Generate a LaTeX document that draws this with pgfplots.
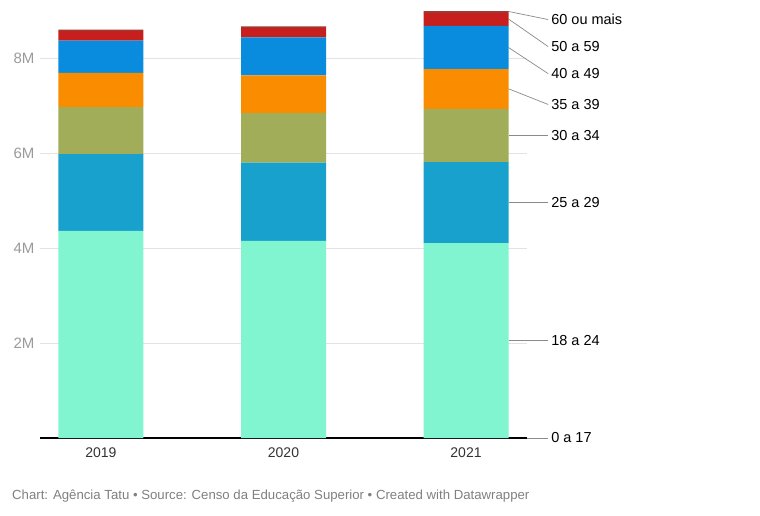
\documentclass[border=0pt]{standalone}
\usepackage{pgfplots}
\pgfplotsset{compat=1.18}
\usepackage{fontspec}
\setmainfont{Liberation Sans}

\definecolor{cA}{HTML}{80F5CF}   % 0 a 17 / 18 a 24
\definecolor{cB}{HTML}{18A1CD}   % 25 a 29
\definecolor{cC}{HTML}{A1AD59}   % 30 a 34
\definecolor{cD}{HTML}{FA8C00}   % 35 a 39
\definecolor{cE}{HTML}{098CDD}   % 40 a 49
\definecolor{cF}{HTML}{C71F1E}   % 50 a 59
\definecolor{cG}{HTML}{9C3A33}   % 60 ou mais
\definecolor{gridc}{HTML}{E3E3E3}
\definecolor{tickc}{HTML}{9A9A9A}
\definecolor{leadc}{HTML}{8A8A8A}

\begin{document}
\begin{tikzpicture}[x=1pt,y=1pt]
\begin{axis}[
    anchor=south west,
    scale only axis, width=487pt, height=427pt,
    ybar stacked, bar width=85pt,
    xmin=-0.334, xmax=2.334, ymin=0, ymax=9,
    axis x line*=bottom, axis y line*=left,
    x axis line style={black, line width=1.2pt, -},
    y axis line style={draw=none},
    xtick={0,1,2}, xticklabels={2019,2020,2021},
    ytick={2,4,6,8}, yticklabels={2M,4M,6M,8M},
    major tick length=0pt,
    ymajorgrids, grid style={gridc, line width=0.8pt},
    xticklabel style={font=\fontsize{14}{16}\selectfont, text=black!80, yshift=-6pt},
    yticklabel style={font=\fontsize{15}{17}\selectfont, text=tickc, xshift=-2pt},
    /pgf/number format/assume math mode=true,
    clip=false,
    every axis plot/.append style={draw=none},
]
% 0 a 17
\addplot[fill=cA] coordinates {(0,0.005) (1,0.005) (2,0.005)};
% 18 a 24
\addplot[fill=cA] coordinates {(0,4.36) (1,4.15) (2,4.10)};
% 25 a 29
\addplot[fill=cB] coordinates {(0,1.62) (1,1.65) (2,1.71)};
% 30 a 34
\addplot[fill=cC] coordinates {(0,0.99) (1,1.04) (2,1.12)};
% 35 a 39
\addplot[fill=cD] coordinates {(0,0.72) (1,0.80) (2,0.84)};
% 40 a 49
\addplot[fill=cE] coordinates {(0,0.68) (1,0.80) (2,0.91)};
% 50 a 59
\addplot[fill=cF] coordinates {(0,0.20) (1,0.20) (2,0.27)};
% 60 ou mais
\addplot[fill=cG] coordinates {(0,0.03) (1,0.03) (2,0.04)};

% leader lines and labels
\tikzset{lab/.style={anchor=west, font=\fontsize{14.5}{16}\selectfont, inner sep=0pt}}
\draw[leadc, line width=0.7pt] (axis cs:2.233,8.99) -- (axis cs:2.45,8.82);
\node[lab] at (axis cs:2.466,8.82) {60 ou mais};
\draw[leadc, line width=0.7pt] (axis cs:2.233,8.83) -- (axis cs:2.45,8.25);
\node[lab] at (axis cs:2.466,8.25) {50 a 59};
\draw[leadc, line width=0.7pt] (axis cs:2.233,8.23) -- (axis cs:2.45,7.68);
\node[lab] at (axis cs:2.466,7.68) {40 a 49};
\draw[leadc, line width=0.7pt] (axis cs:2.233,7.36) -- (axis cs:2.45,7.03);
\node[lab] at (axis cs:2.466,7.03) {35 a 39};
\draw[leadc, line width=0.7pt] (axis cs:2.233,6.38) -- (axis cs:2.45,6.38);
\node[lab] at (axis cs:2.466,6.38) {30 a 34};
\draw[leadc, line width=0.7pt] (axis cs:2.233,4.965) -- (axis cs:2.45,4.965);
\node[lab] at (axis cs:2.466,4.965) {25 a 29};
\draw[leadc, line width=0.7pt] (axis cs:2.233,2.055) -- (axis cs:2.45,2.055);
\node[lab] at (axis cs:2.466,2.055) {18 a 24};
\draw[leadc, line width=0.7pt] (axis cs:2.334,0.0) -- (axis cs:2.45,0.0);
\node[lab] at (axis cs:2.466,0.0) {0 a 17};
\end{axis}
% page frame: axis box sits at (40,77) of a 760x515 page
\path (-40,-77) rectangle (720,438);
\node[anchor=west, text=black!50, font=\fontsize{13.2}{15}\selectfont, inner sep=0pt]
  at (-28,-58) {Chart: Agência Tatu • Source: Censo da Educação Superior • Created with Datawrapper};
\end{tikzpicture}
\end{document}
